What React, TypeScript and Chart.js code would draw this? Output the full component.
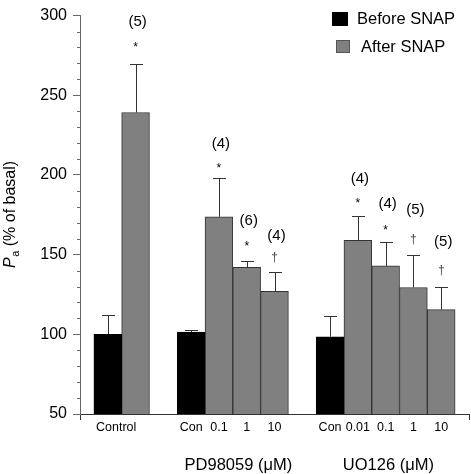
import React, { useEffect, useRef } from 'react';
import { Chart, registerables } from 'chart.js';

Chart.register(...registerables);

const FONT = "'Liberation Sans', Arial, Helvetica, sans-serif";

// ---- data ----
const seriesLabels = ['Before SNAP', 'After SNAP'];

const beforePositions = [1, 4, 9];
const beforeValues = [100, 101.4, 98.5];
const beforeErrTop = [112, 102.9, 111.8];

const afterPositions = [2, 5, 6, 7, 10, 11, 12, 13];
const afterValues = [239.2, 173.8, 142.1, 127.0, 159.0, 142.9, 129.4, 115.5];
const afterErrTop = [269.5, 198.4, 145.8, 139.0, 174.4, 158.2, 149.9, 129.9];
const afterMarks = ['*', '*', '*', '†', '*', '*', '†', '†'];
const afterMarkValues = [282, 206.2, 157.3, 148.4, 184.1, 167.4, 159.8, 140.2];
const afterNLabels = ['(5)', '(4)', '(6)', '(4)', '(4)', '(4)', '(5)', '(5)'];
const afterNValues = [295.9, 219.6, 171.1, 161.9, 197.3, 181.8, 178.3, 158.3];

const xTickPositions = [0, 1.3, 4, 5, 6, 7, 9, 10, 11, 12, 13, 14];
const xTickLabels = ['', 'Control', 'Con', '0.1', '1', '10', 'Con', '0.01', '0.1', '1', '10', ''];

const groupLabels = ['PD98059 (\u03BCM)', 'UO126 (\u03BCM)'];
const groupCenters = [5.7, 11.1];

const yMin = 50;
const yMax = 300;
const yMajorStep = 50;
const yMinorStep = 10;

const BLACK = '#000000';
const GRAY = '#808080';
const DARK = '#333333';
const AXIS_GRAY = '#666666';

const decorPlugin = {
  id: 'decor',
  afterDatasetsDraw(chart: any) {
    const ctx = chart.ctx;
    const ys = chart.scales.y;
    const errSets = [beforeErrTop, afterErrTop];
    ctx.save();
    ctx.strokeStyle = DARK;
    ctx.lineWidth = 1;
    chart.data.datasets.forEach((_ds: any, di: number) => {
      const meta = chart.getDatasetMeta(di);
      meta.data.forEach((bar: any, i: number) => {
        const top = Math.round(ys.getPixelForValue(errSets[di][i])) + 0.5;
        const cx = Math.round(bar.x) + 0.5;
        ctx.beginPath();
        ctx.moveTo(cx, bar.y);
        ctx.lineTo(cx, top);
        ctx.moveTo(cx - 6.5, top);
        ctx.lineTo(cx + 6.5, top);
        ctx.stroke();
      });
    });
    // significance marks and n labels
    const afterMeta = chart.getDatasetMeta(1);
    ctx.fillStyle = '#000';
    ctx.textAlign = 'center';
    afterMeta.data.forEach((bar: any, i: number) => {
      const mark = afterMarks[i];
      const my = ys.getPixelForValue(afterMarkValues[i]);
      ctx.font = `12px ${FONT}`;
      ctx.textBaseline = 'alphabetic';
      const off = mark === '*' ? 0.57 * 12 : 0.3 * 12;
      ctx.fillStyle = mark === '*' ? '#000' : '#444';
      ctx.fillText(mark, bar.x, my + off);
      ctx.fillStyle = '#000';
      ctx.font = `15px ${FONT}`;
      ctx.textBaseline = 'middle';
      ctx.fillText(afterNLabels[i], bar.x + 2, ys.getPixelForValue(afterNValues[i]));
    });
    ctx.restore();
  },
  afterDraw(chart: any) {
    const ctx = chart.ctx;
    const ys = chart.scales.y;
    const xs = chart.scales.x;
    const left = chart.chartArea.left;
    ctx.save();
    // minor ticks on y axis
    ctx.strokeStyle = AXIS_GRAY;
    ctx.lineWidth = 1;
    for (let v = yMin; v <= yMax; v += yMinorStep) {
      if (v % yMajorStep === 0) continue;
      const py = Math.round(ys.getPixelForValue(v)) + 0.5;
      ctx.beginPath();
      ctx.moveTo(left - 3, py);
      ctx.lineTo(left, py);
      ctx.stroke();
    }
    // y title: P_a (% of basal)
    ctx.translate(15, 268);
    ctx.rotate(-Math.PI / 2);
    ctx.fillStyle = '#000';
    ctx.textAlign = 'left';
    ctx.textBaseline = 'alphabetic';
    ctx.font = `italic 16px ${FONT}`;
    ctx.fillText('P', 0, 0);
    let w = ctx.measureText('P').width;
    ctx.font = `11px ${FONT}`;
    ctx.fillText('a', w + 0.5, 3.5);
    w += 0.5 + ctx.measureText('a').width;
    ctx.font = `16px ${FONT}`;
    ctx.fillText(' (% of basal)', w, 0);
    ctx.setTransform(1, 0, 0, 1, 0, 0);
    // legend
    ctx.fillStyle = BLACK;
    ctx.fillRect(332, 12, 16, 14);
    ctx.fillStyle = GRAY;
    ctx.fillRect(336, 40, 14, 13);
    ctx.strokeStyle = '#555';
    ctx.strokeRect(336.5, 40.5, 13, 12);
    ctx.fillStyle = '#000';
    ctx.font = `16.5px ${FONT}`;
    ctx.textBaseline = 'middle';
    ctx.textAlign = 'left';
    ctx.fillText(seriesLabels[0], 357, 19);
    ctx.fillText(seriesLabels[1], 361, 47);
    // group labels
    ctx.font = `16.5px ${FONT}`;
    ctx.textAlign = 'center';
    groupLabels.forEach((g, i) => {
      ctx.fillText(g, xs.getPixelForValue(groupCenters[i]), 465);
    });
    ctx.restore();
  },
};

export default function App() {
  const ref = useRef<HTMLCanvasElement | null>(null);
  useEffect(() => {
    if (!ref.current) return;
    const chart = new Chart(ref.current, {
      type: 'bar',
      data: {
        datasets: [
          {
            label: seriesLabels[0],
            data: beforePositions.map((p, i) => ({ x: p, y: beforeValues[i] })),
            backgroundColor: BLACK,
            borderColor: BLACK,
            borderWidth: 1,
            grouped: false,
            barPercentage: 1,
            categoryPercentage: 1,
          } as any,
          {
            label: seriesLabels[1],
            data: afterPositions.map((p, i) => ({ x: p, y: afterValues[i] })),
            backgroundColor: GRAY,
            borderColor: DARK,
            borderWidth: 1,
            grouped: false,
            barPercentage: 1,
            categoryPercentage: 1,
          } as any,
        ],
      },
      options: {
        animation: false,
        responsive: false,
        devicePixelRatio: 1,
        layout: { padding: { top: 10, right: 2, left: 0, bottom: 0 } },
        plugins: {
          legend: { display: false },
          tooltip: { enabled: false },
        },
        scales: {
          x: {
            type: 'linear',
            min: 0,
            max: 14,
            offset: false,
            afterBuildTicks: (s: any) => {
              s.ticks = xTickPositions.map((v) => ({ value: v }));
            },
            afterFit: (s: any) => {
              s.height = 60;
            },
            ticks: {
              autoSkip: false,
              maxRotation: 0,
              minRotation: 0,
              padding: 0,
              color: '#000',
              font: { family: FONT, size: 12.5 },
              callback: (v: any) => {
                const i = xTickPositions.indexOf(Number(v));
                return i >= 0 ? xTickLabels[i] : '';
              },
            },
            grid: {
              display: true,
              offset: false,
              drawOnChartArea: false,
              drawTicks: true,
              tickLength: 6,
              color: (c: any) =>
                c.tick && (c.tick.value === 0 || c.tick.value === 14) ? DARK : 'rgba(0,0,0,0)',
            },
            border: { display: true, color: DARK, width: 1 },
          },
          y: {
            type: 'linear',
            min: yMin,
            max: yMax,
            beginAtZero: false,
            afterFit: (s: any) => {
              s.width = 80;
            },
            ticks: {
              stepSize: yMajorStep,
              padding: 6,
              color: '#000',
              font: { family: FONT, size: 16 },
            },
            grid: {
              display: true,
              drawOnChartArea: false,
              drawTicks: true,
              tickLength: 7,
              color: AXIS_GRAY,
            },
            border: { display: true, color: AXIS_GRAY, width: 1 },
          },
        },
      } as any,
      plugins: [decorPlugin],
    });
    return () => chart.destroy();
  }, []);
  return (
    <div style={{ position: 'absolute', left: 0, top: 0, width: 471, height: 474, background: '#fff' }}>
      <canvas ref={ref} width={471} height={474} style={{ display: 'block' }} />
    </div>
  );
}
